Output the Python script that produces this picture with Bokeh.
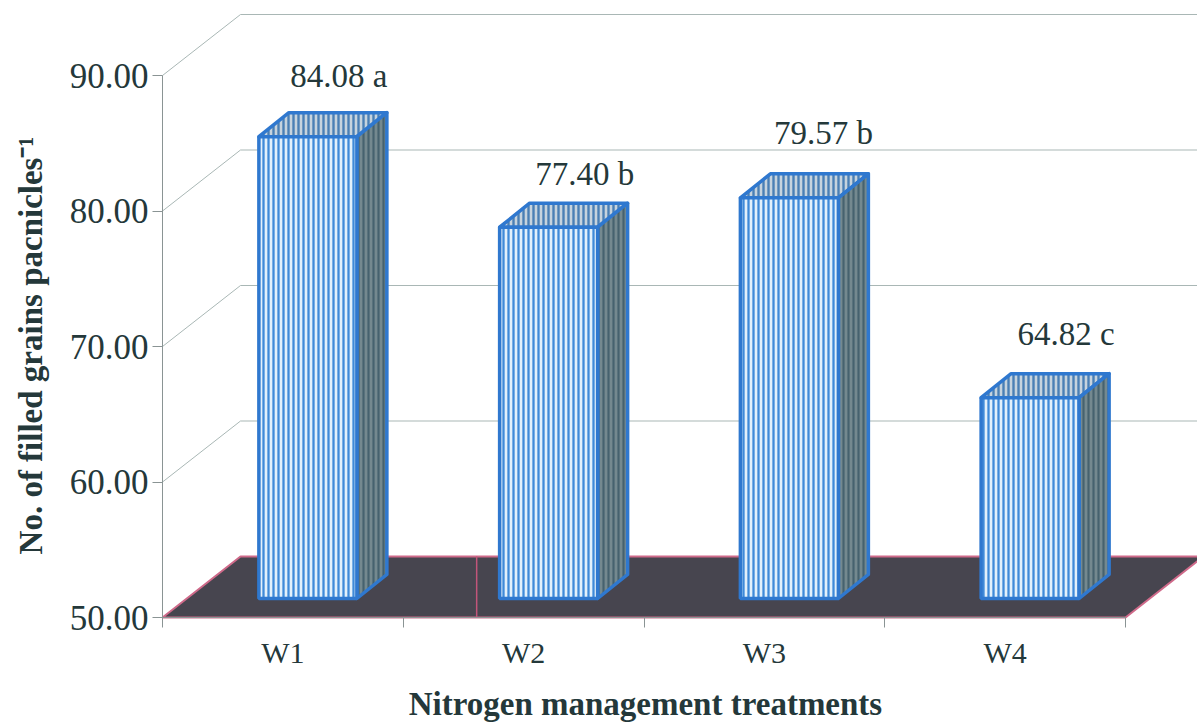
from bokeh.plotting import figure
from bokeh.models import Range1d, FixedTicker
from bokeh.embed import file_html
from bokeh.resources import INLINE
from bokeh.core.properties import value as val

categories = ["W1", "W2", "W3", "W4"]
grain_values = [84.08, 77.40, 79.57, 64.82]
letters = ["a", "b", "b", "c"]
y_ticks = [50, 60, 70, 80, 90]
floor_mark = 1.305
x_title = "Nitrogen management treatments"
y_title = "No. of filled grains pacnicles⁻¹"

# layout, in axis units
PX_X, PX_Y = 240.75, 13.55
WALL_DX, WALL_DY = 78 / PX_X, 61 / PX_Y
BAR_W, BAR_OFF_X, BAR_OFF_Y = 98 / PX_X, 25 / PX_X, 19 / PX_Y
BAR_DX, BAR_DY = 30 / PX_X, 24 / PX_Y
LABEL_DX = [56 / PX_X, 61 / PX_X, 59 / PX_X, 61 / PX_X]
LABEL_DY = [80 / PX_Y, 72 / PX_Y, 84 / PX_Y, 83 / PX_Y]
SERIF = "Liberation Serif"
INK = "#24383a"

p = figure(width=1197, height=724, output_backend="svg", toolbar_location=None,
           x_range=Range1d(-162 / PX_X, 1035 / PX_X), y_range=Range1d(50 - 107 / PX_Y, 50 + 617 / PX_Y),
           min_border=0, outline_line_color=None, background_fill_color="white")
p.grid.visible = False

# back wall gridlines
xs, ys = [], []
for t in y_ticks:
    xs.append([0, WALL_DX, 5])
    ys.append([t, t + WALL_DY, t + WALL_DY])
p.multi_line(xs, ys, line_color="#a9b7b5", line_width=1)

# floor
p.patch([0, WALL_DX, 4 + WALL_DX, 4], [50, 50 + WALL_DY, 50 + WALL_DY, 50],
        fill_color="#47454f", line_color="#cf6a8a", line_width=2)
p.segment([floor_mark], [50], [floor_mark], [50 + WALL_DY], line_color="#c2557a", line_width=1.5)

# bars
left = [i + 0.5 - BAR_W / 2 + BAR_OFF_X for i in range(4)]
right = [l + BAR_W for l in left]
base = 50 + BAR_OFF_Y
top = [v + BAR_OFF_Y for v in grain_values]
BLUE = "#2f78cf"
p.patches([[l, l + BAR_DX, r + BAR_DX, r] for l, r in zip(left, right)],
          [[t, t + BAR_DY, t + BAR_DY, t] for t in top],
          fill_color="#c6d3de", line_color=BLUE, line_width=3.5, line_join="round",
          hatch_pattern="vertical_line", hatch_color="#4a7fb5", hatch_scale=5, hatch_weight=2.4)
p.patches([[r, r + BAR_DX, r + BAR_DX, r] for r in right],
          [[t, t + BAR_DY, base + BAR_DY, base] for t in top],
          fill_color="#74898f", line_color=BLUE, line_width=3.5, line_join="round",
          hatch_pattern="vertical_line", hatch_color="#46626e", hatch_scale=5, hatch_weight=2.2)
p.quad(left=left, right=right, top=top, bottom=base,
       fill_color="#e2f0fb", line_color=BLUE, line_width=3.5,
       hatch_pattern="vertical_line", hatch_color="#3f8ad8", hatch_scale=5, hatch_weight=2.3)

# value labels
p.text([i + 0.5 + LABEL_DX[i] for i in range(4)],
       [grain_values[i] + LABEL_DY[i] for i in range(4)],
       text=[f"{v:.2f} {l}" for v, l in zip(grain_values, letters)],
       text_font=val(SERIF), text_font_size="33px", text_color=INK,
       text_align="center", text_baseline="middle")

# axes, fixed on the data so that the frame can span the whole canvas
xa = p.xaxis[0]
xa.fixed_location = 50
xa.bounds = (0, 4)
xa.ticker = FixedTicker(ticks=[i + 0.5 for i in range(4)], minor_ticks=[0, 1, 2, 3, 4])
xa.major_label_overrides = {i + 0.5: c for i, c in enumerate(categories)}
xa.major_tick_line_color = None
xa.major_tick_out = 10
xa.major_tick_in = 0
xa.minor_tick_out = 10
xa.minor_tick_in = 0
xa.minor_tick_line_color = "#8a9494"
xa.axis_line_color = "#8a9494"
xa.major_label_standoff = 8
xa.major_label_text_font = SERIF
xa.major_label_text_font_size = "30px"
xa.major_label_text_color = INK

ya = p.yaxis[0]
ya.fixed_location = 0
ya.bounds = (50, 90)
ya.ticker = FixedTicker(ticks=y_ticks, minor_ticks=[])
ya.major_label_overrides = {t: f"{t:.2f}" for t in y_ticks}
ya.major_tick_out = 10
ya.major_tick_in = 0
ya.major_tick_line_color = "#8a9494"
ya.axis_line_color = "#8a9494"
ya.major_label_standoff = 4
ya.major_label_text_font = SERIF
ya.major_label_text_font_size = "35px"
ya.major_label_text_color = INK

# axis titles
p.text([2.006], [50 - 86 / PX_Y], text=[x_title], text_font=val(SERIF), text_font_style="bold",
       text_font_size="33px", text_color=INK, text_align="center", text_baseline="middle")
p.text([-132 / PX_X], [70.07], text=[y_title], text_font=val(SERIF), text_font_style="bold",
       text_font_size="33px", text_color=INK, text_align="center", text_baseline="middle",
       angle=90, angle_units="deg")

open("out.html", "w").write(file_html(p, INLINE))
